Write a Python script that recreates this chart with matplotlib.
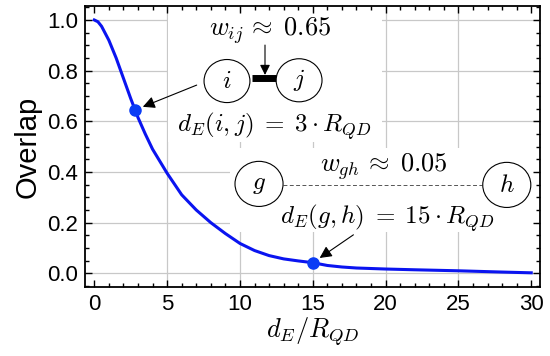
import matplotlib
matplotlib.use("Agg")
import matplotlib.pyplot as plt
from matplotlib.patches import Ellipse, Rectangle
from matplotlib.ticker import MultipleLocator, FormatStrFormatter

# Curve data
distance = [0, 0.25, 0.5, 1.0, 1.5, 2.0, 2.5, 3.0, 3.5, 4.0, 5.0, 6.0, 7.0, 8.0,
            9.0, 10.0, 11.0, 12.0, 13.0, 14.0, 15.0, 16.0, 17.0, 18.0, 20.0,
            22.0, 25.0, 28.0, 30.0]
overlap = [1.0, 0.993, 0.975, 0.92, 0.85, 0.77, 0.69, 0.615, 0.55, 0.49, 0.395,
           0.31, 0.25, 0.20, 0.157, 0.118, 0.09, 0.07, 0.057, 0.049, 0.042,
           0.031, 0.025, 0.021, 0.017, 0.014, 0.010, 0.005, 0.002]

# Highlighted points
marked_x = [2.8, 15.0]
marked_y = [0.645, 0.042]

x_grid = [5, 10, 15, 20, 25]
y_grid = [0.0, 0.2, 0.4, 0.6, 0.8, 1.0]

plt.rcParams.update(
    {
        "font.family": ["Liberation Sans", "DejaVu Sans"],
        "mathtext.fontset": "cm",
        "xtick.labelsize": 16,
        "ytick.labelsize": 16,
    }
)

fig = plt.figure(figsize=(5.5, 3.56), dpi=100)
ax = fig.add_axes([0.1545, 0.1938, 0.8273, 0.7892])

# Grid drawn by hand (no lines at 0 and 30)
for gx in x_grid:
    ax.axvline(gx, color="#c8c8c8", lw=0.9, zorder=0.5)
for gy in y_grid:
    ax.axhline(gy, color="#c8c8c8", lw=0.9, zorder=0.5)

# White backgrounds behind the two annotation blocks
ax.add_patch(Rectangle((5.06, 0.518), 14.7, 0.514, facecolor="white",
                       edgecolor="none", zorder=1))
ax.add_patch(Rectangle((9.32, 0.163), 21.0, 0.332, facecolor="white",
                       edgecolor="none", zorder=1))

ax.plot(distance, overlap, color="#0a14f0", lw=2.2, zorder=3)
ax.plot(marked_x, marked_y, "o", color="#0a3cf5", ms=8, zorder=4)

arrow_style = dict(arrowstyle="-|>", color="black", lw=0.8, mutation_scale=18,
                   shrinkA=0, shrinkB=6)

# Close pair i-j
for (cx, cy), lab in zip([(9.11, 0.759), (14.06, 0.762)], ["i", "j"]):
    ax.add_patch(Ellipse((cx, cy), 3.15, 0.170, facecolor="white",
                         edgecolor="black", lw=0.8, zorder=5))
    ax.text(cx, cy, f"${lab}$", fontsize=18, ha="center", va="center", zorder=6)
ax.plot([10.81, 12.53], [0.771, 0.771], color="black", lw=5, solid_capstyle="butt",
        zorder=4)
ax.annotate("", xy=(11.72, 0.783), xytext=(11.72, 0.901),
            arrowprops=dict(arrowstyle="-|>", color="black", lw=0.8,
                            mutation_scale=15, shrinkA=0, shrinkB=0), zorder=6)
ax.text(12.09, 0.937, r"$w_{ij}\,\approx\;0.65$", fontsize=19, ha="center",
        va="baseline", zorder=6)
ax.text(12.38, 0.559, r"$d_E(i,j)\; = \;3\cdot R_{QD}$", fontsize=18,
        ha="center", va="baseline", zorder=6)
ax.annotate("", xy=(marked_x[0], marked_y[0]), xytext=(7.03, 0.743),
            arrowprops=arrow_style, zorder=6)

# Distant pair g-h
ax.plot([12.96, 26.63], [0.349, 0.349], color="#555555", lw=0.7,
        dashes=(4, 2.5), zorder=4)
for (cx, cy), lab in zip([(11.31, 0.353), (28.32, 0.349)], ["g", "h"]):
    ax.add_patch(Ellipse((cx, cy), 3.3, 0.178, facecolor="white",
                         edgecolor="black", lw=0.8, zorder=5))
    ax.text(cx, cy, f"${lab}$", fontsize=18, ha="center", va="center", zorder=6)
ax.text(19.85, 0.401, r"$w_{gh}\,\approx\;0.05$", fontsize=19, ha="center",
        va="baseline", zorder=6)
ax.text(20.14, 0.197, r"$d_E(g,h)\; = \;15\cdot R_{QD}$", fontsize=18,
        ha="center", va="baseline", zorder=6)
ax.annotate("", xy=(marked_x[1], marked_y[1]), xytext=(17.79, 0.152),
            arrowprops=arrow_style, zorder=6)

ax.set_xlim(-0.64, 30.6)
ax.set_ylim(-0.054, 1.055)
ax.xaxis.set_major_locator(MultipleLocator(5))
ax.xaxis.set_minor_locator(MultipleLocator(1))
ax.yaxis.set_major_locator(MultipleLocator(0.2))
ax.yaxis.set_minor_locator(MultipleLocator(0.05))
ax.yaxis.set_major_formatter(FormatStrFormatter("%.1f"))
ax.tick_params(which="both", direction="in", top=True, right=True, width=1)
ax.tick_params(which="major", length=5, pad=5)
ax.tick_params(which="minor", length=3)
for sp in ax.spines.values():
    sp.set_linewidth(1.3)

ax.set_xlabel(r"$d_E/R_{QD}$", fontsize=19, labelpad=0)
ax.set_ylabel("Overlap", fontsize=21, labelpad=4)

fig.savefig("out.png", dpi=100)
